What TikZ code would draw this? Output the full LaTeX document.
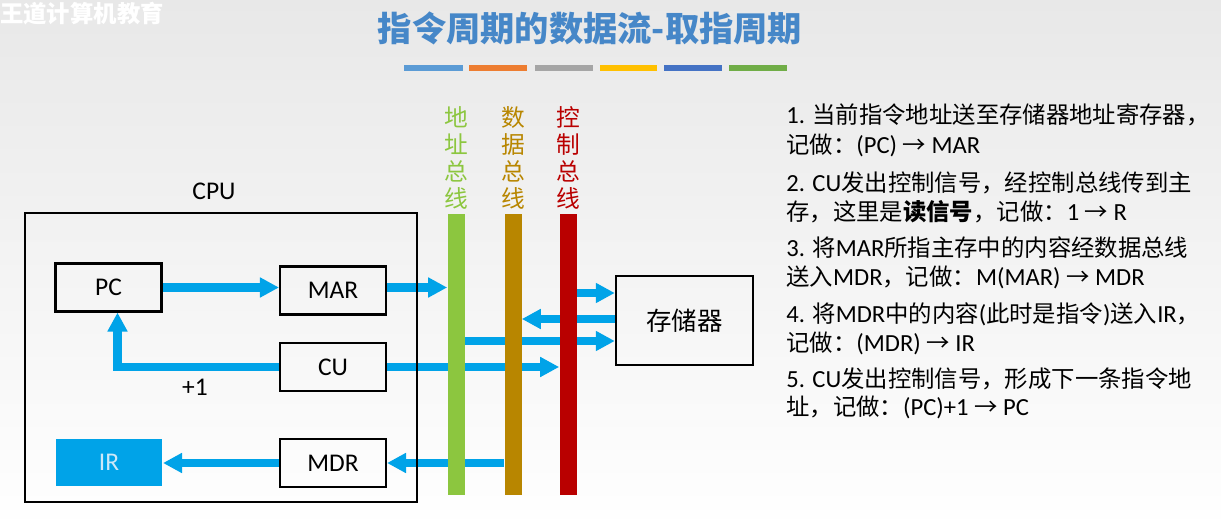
\documentclass[tikz,border=0pt]{standalone}
\usepackage{fontspec}
\setmainfont{Carlito}
\newfontfamily\zh{Noto Sans CJK SC}
\newcommand\z[1]{{\zh\fontsize{13.3}{15}\selectfont #1}}
\usetikzlibrary{arrows.meta,calc}

\pgfdeclarelayer{back}
\pgfdeclarelayer{flows}
\pgfsetlayers{back,flows,main}

\definecolor{flowblue}{RGB}{0,163,232}
\definecolor{irtext}{RGB}{205,232,248}
\definecolor{titleblue}{RGB}{70,135,200}
\definecolor{addrgreen}{RGB}{140,198,63}
\definecolor{datagold}{RGB}{184,134,0}
\definecolor{ctrlred}{RGB}{185,0,0}
\definecolor{barblue}{RGB}{91,155,213}
\definecolor{barorange}{RGB}{237,125,49}
\definecolor{bargray}{RGB}{165,165,165}
\definecolor{baryellow}{RGB}{255,192,0}
\definecolor{bardark}{RGB}{68,114,196}
\definecolor{bargreen}{RGB}{112,173,71}

\begin{document}
\begin{tikzpicture}[x=0.02cm,y=-0.02cm,
  reg/.style={draw,line width=1.2pt,minimum width=2.12cm,minimum height=0.96cm,inner sep=0pt,font=\fontsize{14.5}{17}\selectfont},
  bus/.style={inner sep=0pt,minimum width=0.34cm,minimum height=5.62cm},
  buslabel/.style={anchor=south,yshift=0.08cm,inner sep=0pt,align=center,font=\zh\fontsize{13.5}{15.3}\selectfont},
  flow/.style={draw=flowblue,line width=4.8pt,-{Triangle[length=0.38cm,width=0.38cm]}},
  note/.style={anchor=base west,inner sep=0pt,font=\fontsize{14}{15}\selectfont},
  stripe/.style={line width=3pt}]
\useasboundingbox (0,0) rectangle (1221,530);
\begin{pgfonlayer}{back}
\shade[top color=black!9,bottom color=white] (0,0) rectangle (1221,530);
\end{pgfonlayer}

\node[anchor=west,text=white,font=\zh\bfseries\fontsize{13.3}{15}\selectfont] (mark) at (-6,14) {王道计算机教育};
\node[text=titleblue,font=\zh\bfseries\fontsize{19.5}{22}\selectfont] (title) at (590,28) {指令周期的数据流-取指周期};
\draw[stripe,barblue] (404,68) -- (463,68);
\draw[stripe,barorange] (469,68) -- (527,68);
\draw[stripe,bargray] (535,68) -- (593,68);
\draw[stripe,baryellow] (600,68) -- (657,68);
\draw[stripe,bardark] (664,68) -- (722,68);
\draw[stripe,bargreen] (729,68) -- (787,68);

\node[font=\fontsize{14.5}{17}\selectfont] (cputext) at (214,191) {CPU};
\node[draw,line width=1.2pt,minimum width=7.84cm,minimum height=5.78cm] (cpu) at (221,357.5) {};
\node[reg] (pc) at (108.5,287.5) {PC};
\node[reg] (mar) at (333,290.5) {MAR};
\node[reg] (cu) at (333,367) {CU};
\node[reg] (mdr) at (333,463) {MDR};
\node[reg,draw=none,fill=flowblue,text=irtext] (ir) at (109,462.5) {IR};
\node[font=\fontsize{14.5}{17}\selectfont] (inc) at (195,387) {+1};

\node[bus,fill=addrgreen] (abus) at (456,354.5) {};
\node[bus,fill=datagold] (dbus) at (513,354.5) {};
\node[bus,fill=ctrlred] (cbus) at (568,354.5) {};
\node[buslabel,text=addrgreen] (alabel) at (abus.north) {地\\址\\总\\线};
\node[buslabel,text=datagold] (dlabel) at (dbus.north) {数\\据\\总\\线};
\node[buslabel,text=ctrlred] (clabel) at (cbus.north) {控\\制\\总\\线};

\node[draw,line width=1.4pt,minimum width=2.74cm,minimum height=1.78cm,font=\zh\fontsize{14.5}{17}\selectfont] (mem) at (684.5,320.5) {存储器};
\coordinate (m1) at ($(mem.west)+(0,-27.5)$);
\coordinate (m2) at ($(mem.west)+(0,-1.5)$);
\coordinate (m3) at ($(mem.west)+(0,20.5)$);

\begin{pgfonlayer}{flows}
\draw[flow] (pc.east) -- (pc.east -| mar.west);
\draw[flow] (mar.east |- pc.east) -- (pc.east -| abus.west);
\draw[flow] (cu.west) -| ($(pc.south)+(9,0)$);
\draw[flow] (cu.east) -- (cu.east -| cbus.west);
\draw[flow] (mdr.east -| dbus.west) -- (mdr.east);
\draw[flow] (mdr.west) -- (mdr.west -| ir.east);
\draw[flow] (m1 -| cbus.east) -- (m1);
\draw[flow] (m2) -- (m2 -| dbus.east);
\draw[flow] (m3 -| abus.east) -- (m3);
\end{pgfonlayer}

\node[note] (s1a) at (786,124) {1. \z{当前指令地址送至存储器地址寄存器，}};
\node[note] (s1b) at (786,154) {\z{记做：}(PC) \z{→} MAR};
\node[note] (s2a) at (786,191.5) {2. CU\z{发出控制信号，经控制总线传到主}};
\node[note] (s2b) at (786,220.5) {\z{存，这里是}\z{\bfseries 读信号}\z{，记做：}1 \z{→} R};
\node[note] (s3a) at (786,256.5) {3. \z{将}MAR\z{所指主存中的内容经数据总线}};
\node[note] (s3b) at (786,285.5) {\z{送入}MDR\z{，记做：}M(MAR) \z{→} MDR};
\node[note] (s4a) at (786,323) {4. \z{将}MDR\z{中的内容}(\z{此时是指令})\z{送入}IR\z{，}};
\node[note] (s4b) at (786,352) {\z{记做：}(MDR) \z{→} IR};
\node[note] (s5a) at (786,387) {5. CU\z{发出控制信号，形成下一条指令地}};
\node[note] (s5b) at (786,416) {\z{址，记做：}(PC)+1 \z{→} PC};
\end{tikzpicture}
\end{document}
